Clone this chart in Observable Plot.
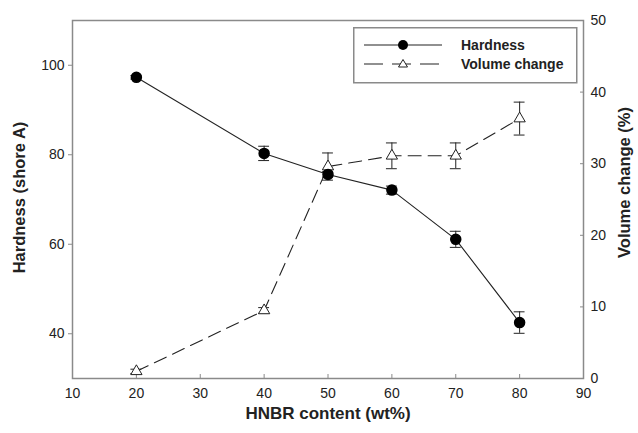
<!DOCTYPE html>
<html>
<head>
<meta charset="utf-8">
<script src="https://cdn.jsdelivr.net/npm/d3@7"></script>
<script src="https://cdn.jsdelivr.net/npm/@observablehq/plot@0.6"></script>
<style>
  html, body { margin: 0; padding: 0; background: #fff; }
  #wrap { position: relative; width: 638px; height: 433px; font-family: "Liberation Sans", Arial, sans-serif; }
  #legend { position: absolute; left: 353px; top: 27px; }
</style>
</head>
<body>
<div id="wrap"></div>
<script>
// ---- data ----
const hnbr = [20, 40, 50, 60, 70, 80];
const hardness = [97.3, 80.3, 75.6, 72.1, 61.1, 42.5];
const hardnessErr = [0.4, 1.6, 0.6, 0.9, 1.8, 2.4];
const volumeChange = [1.0, 9.5, 29.6, 31.1, 31.1, 36.3];
const volumeErr = [0.3, 0.4, 1.9, 1.8, 1.8, 2.3];
const xTicks = [10, 20, 30, 40, 50, 60, 70, 80, 90];
const leftTicks = [40, 60, 80, 100];
const rightTicks = [0, 10, 20, 30, 40, 50];
const seriesNames = ["Hardness", "Volume change"];

// map volume (%) [0,50] onto hardness axis [30,110]
const hMin = 30, hMax = 110, vMax = 50;
const v2h = v => hMin + v * (hMax - hMin) / vMax;
const h2v = h => (h - hMin) * vMax / (hMax - hMin);

const hRows = hnbr.map((x, i) => ({x, y: hardness[i], lo: hardness[i] - hardnessErr[i], hi: hardness[i] + hardnessErr[i]}));
const vRows = hnbr.map((x, i) => ({x, y: v2h(volumeChange[i]), lo: v2h(volumeChange[i] - volumeErr[i]), hi: v2h(volumeChange[i] + volumeErr[i])}));
const capHalf = 0.85;
const caps = rows => rows.flatMap(d => [{x1: d.x - capHalf, x2: d.x + capHalf, y: d.lo}, {x1: d.x - capHalf, x2: d.x + capHalf, y: d.hi}]);

const gray = "#8a8a8a";
const ink = "#222";

const chart = Plot.plot({
  width: 638,
  height: 433,
  marginLeft: 72,
  marginRight: 55,
  marginTop: 20,
  marginBottom: 55,
  style: {fontFamily: "'Liberation Sans', Arial, sans-serif", fontSize: "14px", color: ink, background: "#fff"},
  x: {domain: [10, 90]},
  y: {domain: [hMin, hMax]},
  marks: [
    Plot.frame({stroke: gray, strokeWidth: 1.5}),
    Plot.axisX({ticks: xTicks, tickSize: -4, tickPadding: 14, stroke: gray, label: null, fontSize: 14}),
    Plot.axisY({ticks: leftTicks, tickSize: 4, tickPadding: 4, stroke: gray, label: null, fontSize: 14}),
    Plot.axisY({anchor: "right", ticks: rightTicks.map(v2h), tickFormat: d => String(Math.round(h2v(d))), tickSize: -4, tickPadding: 11, stroke: gray, label: null, fontSize: 14}),
    // volume change series
    Plot.line(vRows, {x: "x", y: "y", stroke: ink, strokeWidth: 1.1, strokeDasharray: "13,7"}),
    Plot.ruleX(vRows, {x: "x", y1: "lo", y2: "hi", stroke: ink, strokeWidth: 1}),
    Plot.ruleY(caps(vRows), {x1: "x1", x2: "x2", y: "y", stroke: ink, strokeWidth: 1}),
    // hardness series
    Plot.line(hRows, {x: "x", y: "y", stroke: ink, strokeWidth: 1.1}),
    Plot.ruleX(hRows, {x: "x", y1: "lo", y2: "hi", stroke: ink, strokeWidth: 1}),
    Plot.ruleY(caps(hRows), {x1: "x1", x2: "x2", y: "y", stroke: ink, strokeWidth: 1}),
    Plot.dot(vRows, {x: "x", y: "y", symbol: "triangle", r: 4.2, stroke: ink, fill: "#fff", strokeWidth: 1}),
    Plot.dot(hRows, {x: "x", y: "y", r: 5, fill: "#000", stroke: "#000"}),
    // axis titles
    Plot.text(["HNBR content (wt%)"], {frameAnchor: "bottom", dy: 35, textAnchor: "middle", lineAnchor: "middle", fontSize: 17, fontWeight: "bold", fill: ink}),
    Plot.text(["Hardness (shore A)"], {frameAnchor: "left", dx: -53, dy: -2, textAnchor: "middle", lineAnchor: "middle", rotate: -90, fontSize: 16.5, fontWeight: "bold", fill: ink}),
    Plot.text(["Volume change (%)"], {frameAnchor: "right", dx: 41, dy: -17, textAnchor: "middle", lineAnchor: "middle", rotate: -90, fontSize: 16.5, fontWeight: "bold", fill: ink})
  ]
});

const wrap = document.getElementById("wrap");
wrap.appendChild(chart);

// legend
const lg = document.createElement("div");
lg.id = "legend";
lg.innerHTML = `
<svg width="225" height="57" style="display:block">
  <rect x="0.75" y="0.75" width="223" height="55" fill="#fff" stroke="${gray}" stroke-width="1.5"/>
  <line x1="11" x2="89" y1="18" y2="18" stroke="${ink}" stroke-width="1.1"/>
  <circle cx="50" cy="18" r="5" fill="#000"/>
  <text x="108" y="18" dy="0.35em" font-size="14" font-weight="bold" fill="${ink}">${seriesNames[0]}</text>
  <line x1="11" x2="89" y1="37" y2="37" stroke="${ink}" stroke-width="1.1" stroke-dasharray="19,9"/>
  <path d="M50,32.5 L54.5,40 L45.5,40 Z" fill="#fff" stroke="${ink}" stroke-width="1"/>
  <text x="108" y="37" dy="0.35em" font-size="14" font-weight="bold" fill="${ink}">${seriesNames[1]}</text>
</svg>`;
wrap.appendChild(lg);
</script>
</body>
</html>
